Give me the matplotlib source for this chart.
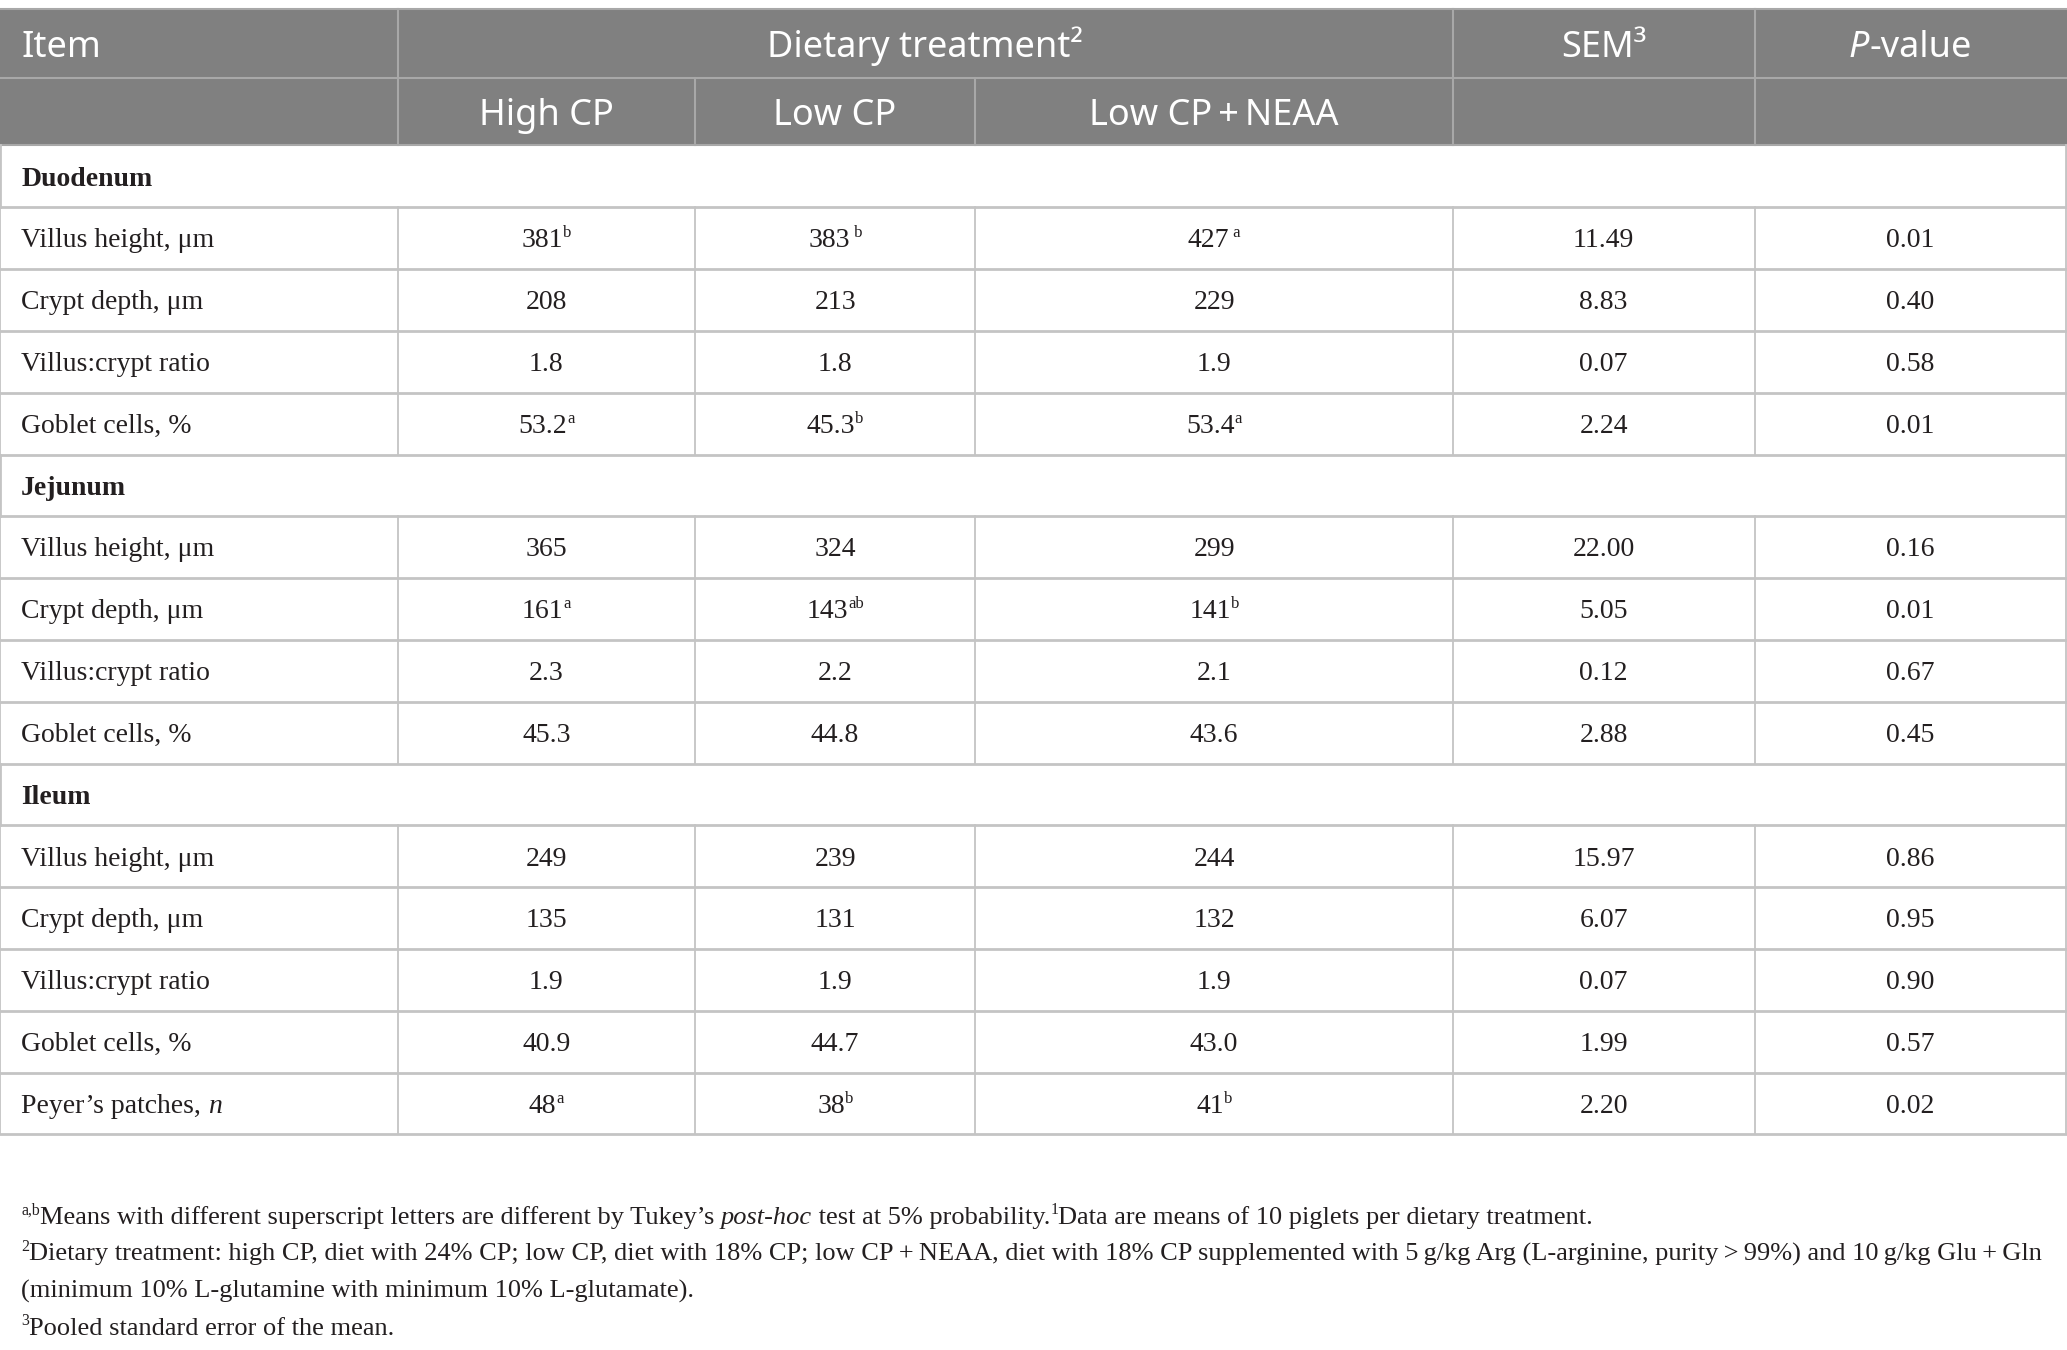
import matplotlib
matplotlib.use("Agg")
import matplotlib.pyplot as plt

# table content
section_names = ["Duodenum", "Jejunum", "Ileum"]
section_sizes = [4, 4, 5]
item_labels = ["Villus height, μm", "Crypt depth, μm", "Villus:crypt ratio", "Goblet cells, %",
               "Villus height, μm", "Crypt depth, μm", "Villus:crypt ratio", "Goblet cells, %",
               "Villus height, μm", "Crypt depth, μm", "Villus:crypt ratio", "Goblet cells, %",
               "Peyer’s patches, *n*"]
high_cp = ["381", "208", "1.8", "53.2", "365", "161", "2.3", "45.3", "249", "135", "1.9", "40.9", "48"]
high_cp_sig = ["b", "", "", "a", "", "a", "", "", "", "", "", "", "a"]
low_cp = ["383", "213", "1.8", "45.3", "324", "143", "2.2", "44.8", "239", "131", "1.9", "44.7", "38"]
low_cp_sig = [" b", "", "", "b", "", "ab", "", "", "", "", "", "", "b"]
low_cp_neaa = ["427", "229", "1.9", "53.4", "299", "141", "2.1", "43.6", "244", "132", "1.9", "43.0", "41"]
low_cp_neaa_sig = [" a", "", "", "a", "", "b", "", "", "", "", "", "", "b"]
sem = ["11.49", "8.83", "0.07", "2.24", "22.00", "5.05", "0.12", "2.88", "15.97", "6.07", "0.07", "1.99", "2.20"]
p_value = ["0.01", "0.40", "0.58", "0.01", "0.16", "0.01", "0.67", "0.45", "0.86", "0.95", "0.90", "0.57", "0.02"]

footnotes = [
    [("a,b", "sup"), ("Means with different superscript letters are different by Tukey’s ", "n"),
     ("post-hoc", "i"), (" test at 5% probability.", "n"), ("1", "sup"),
     ("Data are means of 10 piglets per dietary treatment.", "n")],
    [("2", "sup"), ("Dietary treatment: high CP, diet with 24% CP; low CP, diet with 18% CP; low CP\u2009+\u2009NEAA, "
                    "diet with 18% CP supplemented with 5\u2009g/kg Arg (L-arginine, purity\u2009>\u200999%) "
                    "and 10\u2009g/kg Glu\u2009+\u2009Gln", "n")],
    [("(minimum 10% L-glutamine with minimum 10% L-glutamate).", "n")],
    [("3", "sup"), ("Pooled standard error of the mean.", "n")],
]

W, H = 1568, 1021          # layout units
PX = 2067 / W              # pixels per unit
HEAD_BG = "#808080"
HEAD_LINE = "#a8a8a8"
GRID = "#c4c4c4"
INK = "#231f20"
SERIF = "Liberation Serif"
SANS = "Noto Sans"

fig = plt.figure(figsize=(20.67, 13.5), dpi=100)
ax = fig.add_axes([0, 0, 1, 1])
ax.set_xlim(0, W)
ax.set_ylim(H, 0)
ax.axis("off")
renderer = fig.canvas.get_renderer()


def em(fs):
    return fs * 100 / 72 / PX


def draw_runs(x, yc, runs, fs, family=SERIF, ha="left", color=INK, weight="normal", cap=0.66):
    base = yc + cap * em(fs) / 2
    texts = []
    total = 0
    for txt, st in runs:
        size = fs * 0.6 if st == "sup" else fs
        dy = -0.36 * em(fs) if st == "sup" else 0
        t = ax.text(0, base + dy, txt, fontsize=size, family=family, color=color, weight=weight,
                    style="italic" if st == "i" else "normal", va="baseline", ha="left")
        w = t.get_window_extent(renderer).width / PX
        texts.append((t, w))
        total += w
    x0 = x - total / 2 if ha == "center" else x
    for t, w in texts:
        t.set_x(x0)
        x0 += w


def label_runs(s):
    parts = s.split("*")
    return [(p, "i" if k % 2 else "n") for k, p in enumerate(parts) if p]


# geometry
top, h1, h2 = 7, 59, 110
bottom = 858
n_rows = len(section_names) + len(item_labels)
rh = (bottom - h2) / n_rows
col_x = [0, 302, 527, 740, 1102, 1331, W - 1]
col_c = [(col_x[i] + col_x[i + 1]) / 2 for i in range(len(col_x) - 1)]

# header
ax.fill_between([0, W], top, h2, color=HEAD_BG, lw=0)
ax.plot([0, W], [top, top], color=HEAD_LINE, lw=1.5)
ax.plot([0, W], [h1, h1], color=HEAD_LINE, lw=1.5)
ax.plot([0, W], [h2, h2], color=HEAD_LINE, lw=1.5)
for xv in [302, 1102, 1331]:
    ax.plot([xv, xv], [top, h1], color=HEAD_LINE, lw=1.5)
for xv in col_x[1:6]:
    ax.plot([xv, xv], [h1, h2], color=HEAD_LINE, lw=1.5)

hc1 = (top + h1) / 2
hc2 = (h1 + h2) / 2
hfs = 26
draw_runs(16, hc1, [("Item", "n")], hfs, SANS, color="white", cap=0.714)
draw_runs((302 + 1102) / 2, hc1, [("Dietary treatment²", "n")], hfs, SANS, ha="center", color="white", cap=0.714)
draw_runs(col_c[4], hc1, [("SEM³", "n")], hfs, SANS, ha="center", color="white", cap=0.714)
draw_runs(col_c[5], hc1, [("P", "i"), ("-value", "n")], hfs, SANS, ha="center", color="white", cap=0.714)
for c, name in zip(col_c[1:4], ["High CP", "Low CP", "Low CP\u2009+\u2009NEAA"]):
    draw_runs(c, hc2, [(name, "n")], hfs, SANS, ha="center", color="white", cap=0.714)

# body
fs = 20
y = h2
k = 0
for sec, size in zip(section_names, section_sizes):
    draw_runs(16, y + rh / 2, [(sec, "n")], fs, weight="bold")
    ax.plot([0, W], [y + rh, y + rh], color=GRID, lw=2)
    ax.plot([0, 0], [y, y + rh], color=GRID, lw=2)
    ax.plot([W - 1, W - 1], [y, y + rh], color=GRID, lw=2)
    y += rh
    for _ in range(size):
        yc = y + rh / 2
        draw_runs(16, yc, label_runs(item_labels[k]), fs)
        cells = [(high_cp[k], high_cp_sig[k]), (low_cp[k], low_cp_sig[k]),
                 (low_cp_neaa[k], low_cp_neaa_sig[k]), (sem[k], ""), (p_value[k], "")]
        for c, (val, sig) in zip(col_c[1:], cells):
            runs = [(val, "n")] + ([(sig, "sup")] if sig else [])
            draw_runs(c, yc, runs, fs, ha="center")
        ax.plot([0, W], [y + rh, y + rh], color=GRID, lw=2)
        for xv in col_x:
            ax.plot([xv, xv], [y, y + rh], color=GRID, lw=1.3)
        y += rh
        k += 1

# footnotes
for i, runs in enumerate(footnotes):
    draw_runs(16, 919 + 28 * i, runs, 19)

fig.savefig("out.png", dpi=100, facecolor="white")
